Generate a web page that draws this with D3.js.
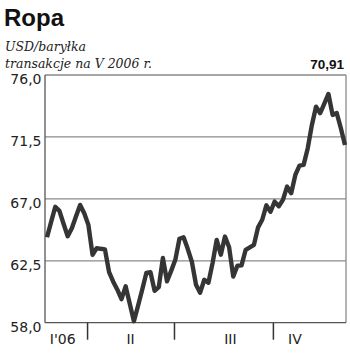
<!DOCTYPE html>
<html>
<head>
<meta charset="utf-8">
<script src="https://cdn.jsdelivr.net/npm/d3@7"></script>
<style>
  body { margin: 0; background: #fff; }
  svg { display: block; }
</style>
</head>
<body>
<div id="container"></div>
<script>
// weekly prices, USD per barrel
const prices = [
  64.21, 65.33, 66.42, 66.13, 65.19, 64.28, 64.87, 65.72, 66.56, 65.96,
  65.11, 62.94, 63.42, 63.37, 63.33, 61.67, 60.98, 60.40, 59.71, 60.64,
  59.38, 58.11, 59.23, 60.40, 61.61, 61.67, 60.32, 60.58, 62.70, 61.01,
  61.77, 62.57, 64.10, 64.21, 63.37, 62.43, 60.76, 60.18, 61.12, 60.90,
  62.33, 64.02, 62.94, 64.26, 63.48, 61.36, 62.14, 62.17, 63.30, 63.48,
  63.66, 64.93, 65.48, 66.53, 66.06, 66.80, 66.46, 66.93, 67.89, 67.41,
  68.74, 69.42, 69.47, 70.68, 72.37, 73.70, 73.22, 73.92, 74.62, 73.10,
  73.24, 72.13, 70.91
];
const lastPrice = "70,91";

const yTicks = [58, 62.5, 67, 71.5, 76];
const quarterBounds = [9.8, 30.8, 54.7];       // in week index
const quarterLabels = ["I'06", "II", "III", "IV"];
const quarterLabelAt = [3.8, 20.2, 44.3, 59.9];

const width = 350, height = 355;
const plotLeft = 45, plotRight = 346, plotTop = 75, plotBottom = 322.7;

const svg = d3.select("#container")
  .append("svg")
  .attr("width", width)
  .attr("height", height);

const x = d3.scaleLinear()
  .domain([0, prices.length - 1])
  .range([47, 345]);

const y = d3.scaleLinear()
  .domain([58, 76])
  .range([plotBottom, plotTop]);

const fmt = v => d3.format(".1f")(v).replace(".", ",");

// title + subtitle
svg.append("text")
  .attr("x", 4).attr("y", 26)
  .attr("font-family", "Liberation Sans, Arial, sans-serif")
  .attr("font-weight", "bold")
  .attr("font-size", 24)
  .attr("fill", "#111")
  .text("Ropa");

svg.append("text")
  .attr("x", 5).attr("y", 51)
  .attr("font-family", "DejaVu Serif, serif")
  .attr("font-style", "italic")
  .attr("font-size", 12.5)
  .attr("fill", "#222")
  .text("USD/baryłka");

svg.append("text")
  .attr("x", 5).attr("y", 67.5)
  .attr("font-family", "DejaVu Serif, serif")
  .attr("font-style", "italic")
  .attr("font-size", 12.5)
  .attr("fill", "#222")
  .text("transakcje na V 2006 r.");

svg.append("text")
  .attr("x", 344).attr("y", 68.5)
  .attr("text-anchor", "end")
  .attr("font-family", "Liberation Sans, Arial, sans-serif")
  .attr("font-weight", "bold")
  .attr("font-size", 13.5)
  .attr("fill", "#111")
  .text(lastPrice);

// gridlines (incl. top frame)
svg.append("g")
  .selectAll("line")
  .data(yTicks.slice(1))
  .join("line")
  .attr("x1", plotLeft).attr("x2", plotRight)
  .attr("y1", d => y(d)).attr("y2", d => y(d))
  .attr("stroke", "#8a8a8a")
  .attr("stroke-width", 1.3);

// right frame
svg.append("line")
  .attr("x1", plotRight).attr("x2", plotRight)
  .attr("y1", y(76)).attr("y2", y(58))
  .attr("stroke", "#8a8a8a")
  .attr("stroke-width", 1.3);

// y labels
svg.append("g")
  .selectAll("text")
  .data(yTicks)
  .join("text")
  .attr("x", 41.5)
  .attr("y", d => y(d) + 9)
  .attr("text-anchor", "end")
  .attr("font-family", "DejaVu Sans, sans-serif")
  .attr("font-size", 14)
  .attr("fill", "#222")
  .text(fmt);

// axes
svg.append("line")
  .attr("x1", plotLeft).attr("x2", plotLeft)
  .attr("y1", plotTop).attr("y2", plotBottom)
  .attr("stroke", "#555")
  .attr("stroke-width", 1.3);

svg.append("line")
  .attr("x1", plotLeft).attr("x2", plotRight)
  .attr("y1", plotBottom).attr("y2", plotBottom)
  .attr("stroke", "#555")
  .attr("stroke-width", 1.3);

svg.append("g")
  .selectAll("line")
  .data(quarterBounds)
  .join("line")
  .attr("x1", d => x(d)).attr("x2", d => x(d))
  .attr("y1", plotBottom).attr("y2", plotBottom + 17)
  .attr("stroke", "#333")
  .attr("stroke-width", 1.5);

svg.append("g")
  .selectAll("text")
  .data(quarterLabels)
  .join("text")
  .attr("x", (d, i) => x(quarterLabelAt[i]))
  .attr("y", 343.5)
  .attr("text-anchor", "middle")
  .attr("font-family", "DejaVu Sans, sans-serif")
  .attr("font-size", 14)
  .attr("fill", "#222")
  .text(d => d);

// price line
const line = d3.line()
  .x((d, i) => x(i))
  .y(d => y(d));

svg.append("path")
  .datum(prices)
  .attr("d", line)
  .attr("fill", "none")
  .attr("stroke", "#353535")
  .attr("stroke-width", 4.4)
  .attr("stroke-linejoin", "round")
  .attr("stroke-linecap", "butt");
</script>
</body>
</html>
